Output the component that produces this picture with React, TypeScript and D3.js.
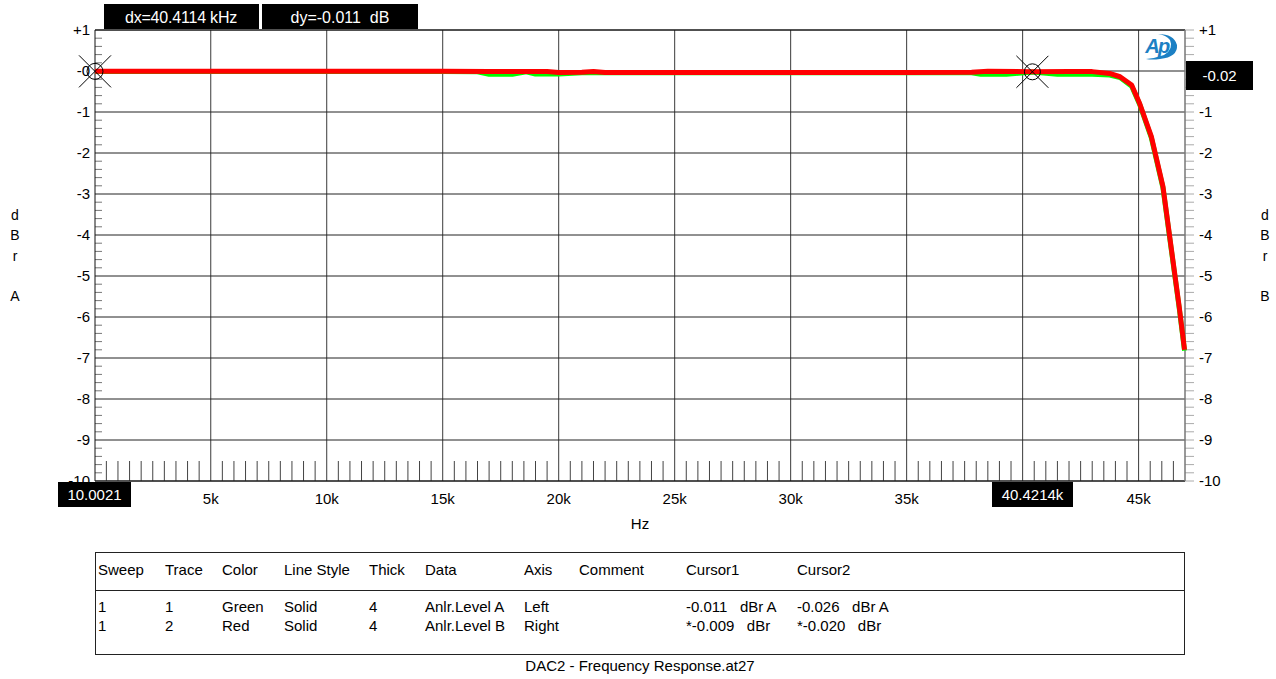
import React from "react";
import * as d3 from "d3";

// Frequency points (Hz) and levels (dB) for the two analyzer traces
const redFreq = [10, 5000, 10000, 15000, 17000, 19500, 20000, 21000, 21500, 22000, 25000, 30000, 35000, 37800, 38500, 40421, 42000, 43000, 43750, 44200, 44700, 45050, 45550, 46050, 46400, 46750, 46980];
const redLevel = [-0.009, -0.008, -0.008, -0.009, -0.01, -0.012, -0.035, -0.033, -0.012, -0.035, -0.036, -0.036, -0.035, -0.03, -0.005, -0.02, -0.01, -0.015, -0.06, -0.14, -0.34, -0.8, -1.6, -2.82, -4.29, -5.75, -6.8];

const greenFreq = [10, 5000, 10000, 15000, 16500, 17000, 18000, 18600, 19000, 20000, 21000, 22000, 25000, 30000, 35000, 37800, 38200, 39300, 40421, 41500, 43000, 43750, 44200, 44700, 45050, 45550, 46050, 46400, 46750, 46980];
const greenLevel = [-0.011, -0.01, -0.01, -0.012, -0.02, -0.08, -0.08, -0.02, -0.075, -0.075, -0.045, -0.045, -0.045, -0.045, -0.045, -0.045, -0.08, -0.08, -0.026, -0.08, -0.08, -0.1, -0.16, -0.37, -0.82, -1.63, -2.85, -4.32, -5.78, -6.82];

const xTickValues = [5000, 10000, 15000, 20000, 25000, 30000, 35000, 40000, 45000];
const xTickLabels = ["5k", "10k", "15k", "20k", "25k", "30k", "35k", "40k", "45k"];
const yTickValues = [1, 0, -1, -2, -3, -4, -5, -6, -7, -8, -9, -10];
const yTickLabels = ["+1", "-0", "-1", "-2", "-3", "-4", "-5", "-6", "-7", "-8", "-9", "-10"];

const cursorFreq = [10.0021, 40421.4];
const cursorLevel = [-0.009, -0.02];

const tableHeader = ["Sweep", "Trace", "Color", "Line Style", "Thick", "Data", "Axis", "Comment", "Cursor1", "Cursor2"];
const tableRow1 = ["1", "1", "Green", "Solid", "4", "Anlr.Level A", "Left", "", "-0.011   dBr A", "-0.026   dBr A"];
const tableRow2 = ["1", "2", "Red", "Solid", "4", "Anlr.Level B", "Right", "", "*-0.009   dBr", "*-0.020   dBr"];
const tableColX = [98, 165, 222, 284, 369, 425, 524, 579, 686, 797];

const FONT = "'Liberation Sans', Arial, Helvetica, sans-serif";

export default function App() {
  const W = 1276, H = 679;
  const L = 95, R = 1185, T = 30, B = 481;
  const x = d3.scaleLinear().domain([10, 47000]).range([L, R]);
  const y = d3.scaleLinear().domain([1, -10]).range([T, B]);

  const line = d3.line<[number, number]>().x(d => x(d[0])).y(d => y(d[1]));
  const redPts = redFreq.map((f, i) => [f, redLevel[i]] as [number, number]);
  const greenPts = greenFreq.map((f, i) => [f, greenLevel[i]] as [number, number]);

  // minor ticks
  const xMinor = d3.range(500, 47000, 500).filter(v => v % 5000 !== 0);
  const yMinor = d3.range(0, 56).map(i => +(1 - i * 0.2).toFixed(2)).filter(v => Math.abs(v - Math.round(v)) > 0.01);

  const cursors = cursorFreq.map((f, i) => ({ cx: x(f), cy: y(cursorLevel[i]) }));

  // labels hidden under the cursor readout boxes are left out
  const xLabelShown = (v: number) => Math.abs(x(v) - cursors[1].cx) > 30;
  const rightLabelShown = (v: number) => v !== 0;

  return (
    <svg width={W} height={H} style={{ position: "absolute", left: 0, top: 0, background: "#fff" }} fontFamily={FONT}>
      <rect x={0} y={0} width={W} height={H} fill="#fff" />

      {/* grid */}
      {xTickValues.map(v => (
        <line key={"gx" + v} x1={x(v)} x2={x(v)} y1={T} y2={B} stroke="#3a3a3a" strokeWidth={1} />
      ))}
      {yTickValues.map(v => (
        <line key={"gy" + v} x1={L} x2={R} y1={y(v)} y2={y(v)} stroke="#222" strokeWidth={1} />
      ))}

      {/* x minor ticks along the bottom */}
      {xMinor.map(v => (
        <line key={"xm" + v} x1={x(v)} x2={x(v)} y1={B - 20} y2={B} stroke="#444" strokeWidth={1} />
      ))}
      {/* left minor ticks (inward) */}
      {yMinor.map(v => (
        <line key={"ylm" + v} x1={L} x2={L + 7} y1={y(v)} y2={y(v)} stroke="#777" strokeWidth={1} />
      ))}
      {/* right ticks (outward) */}
      {yMinor.concat(yTickValues).map(v => (
        <line key={"yrm" + v} x1={R} x2={R + 9} y1={y(v)} y2={y(v)} stroke="#aaa" strokeWidth={1} />
      ))}

      {/* frame */}
      <line x1={L} x2={R} y1={T} y2={T} stroke="#111" />
      <line x1={L} x2={R} y1={B} y2={B} stroke="#111" />
      <line x1={L} x2={L} y1={T} y2={B} stroke="#111" />
      <line x1={R} x2={R} y1={T} y2={B} stroke="#777" strokeWidth={1.5} />

      {/* traces */}
      <path d={line(greenPts) || ""} fill="none" stroke="#00ff00" strokeWidth={5} strokeLinejoin="round" />
      <path d={line(redPts) || ""} fill="none" stroke="#ff0000" strokeWidth={5} strokeLinejoin="round" />

      {/* cursors */}
      {cursors.map((c, i) => (
        <g key={"c" + i} stroke="#000" strokeWidth={1} fill="none">
          <circle cx={c.cx} cy={c.cy} r={8} />
          <line x1={c.cx - 16} y1={c.cy - 16} x2={c.cx + 16} y2={c.cy + 16} />
          <line x1={c.cx - 16} y1={c.cy + 16} x2={c.cx + 16} y2={c.cy - 16} />
        </g>
      ))}

      {/* y tick labels */}
      {yTickValues.map((v, i) => (
        <text key={"yl" + v} x={90} y={y(v)} dy="0.35em" textAnchor="end" fontSize={15} fill="#000">{yTickLabels[i]}</text>
      ))}
      {yTickValues.filter(rightLabelShown).map(v => (
        <text key={"yr" + v} x={1199} y={y(v)} dy="0.35em" textAnchor="start" fontSize={15} fill="#000">{yTickLabels[yTickValues.indexOf(v)]}</text>
      ))}

      {/* x tick labels */}
      {xTickValues.filter(xLabelShown).map(v => (
        <text key={"xl" + v} x={x(v)} y={499} dy="0.35em" textAnchor="middle" fontSize={15} fill="#000">{xTickLabels[xTickValues.indexOf(v)]}</text>
      ))}
      <text x={640} y={524} dy="0.35em" textAnchor="middle" fontSize={15} fill="#000">Hz</text>

      {/* axis titles */}
      {["d", "B", "r", "", "A"].map((ch, i) => (
        <text key={"lt" + i} x={15} y={215 + i * 20.3} dy="0.35em" textAnchor="middle" fontSize={14} fill="#000">{ch}</text>
      ))}
      {["d", "B", "r", "", "B"].map((ch, i) => (
        <text key={"rt" + i} x={1265} y={215 + i * 20.3} dy="0.35em" textAnchor="middle" fontSize={14} fill="#000">{ch}</text>
      ))}

      {/* cursor readouts */}
      <rect x={104} y={4} width={155} height={25} fill="#000" />
      <text x={181} y={17} dy="0.35em" textAnchor="middle" fontSize={16} fill="#fff" letterSpacing={-0.2}>dx=40.4114 kHz</text>
      <rect x={262} y={4} width={156} height={25} fill="#000" />
      <text x={340} y={17} dy="0.35em" textAnchor="middle" fontSize={16} fill="#fff" style={{ whiteSpace: "pre" }}>dy=-0.011  dB</text>

      <rect x={58} y={482} width={73} height={25} fill="#000" />
      <text x={94.5} y={495} dy="0.35em" textAnchor="middle" fontSize={15} fill="#fff">10.0021</text>
      <rect x={992} y={482} width={81} height={25} fill="#000" />
      <text x={1032.5} y={495} dy="0.35em" textAnchor="middle" fontSize={15} fill="#fff">40.4214k</text>

      <rect x={1186} y={61} width={67} height={29} fill="#000" />
      <text x={1219.5} y={76} dy="0.35em" textAnchor="middle" fontSize={15} fill="#fff">-0.02</text>

      {/* logo */}
      <g>
        <text x={1157} y={53} textAnchor="middle" fontSize={20} fontStyle="italic" fontWeight="bold" fill="#1c80c4" letterSpacing={-1.5}>Ap</text>
        <path d="M 1158 34 Q 1174 34 1177 45 Q 1178 57 1160 59 Q 1152 60 1146 59 Q 1156 58 1164 55 Q 1174 49 1170 40 Q 1166 35 1158 34 Z" fill="#1c80c4" />
      </g>

      {/* table */}
      <rect x={95.5} y={552.5} width={1089} height={102} fill="none" stroke="#222" strokeWidth={1} />
      <line x1={95.5} x2={1184.5} y1={590.5} y2={590.5} stroke="#222" />
      {tableHeader.map((t, i) => (
        <text key={"th" + i} x={tableColX[i]} y={570} dy="0.35em" fontSize={15} fill="#000">{t}</text>
      ))}
      {tableRow1.map((t, i) => (
        <text key={"r1" + i} x={tableColX[i]} y={607} dy="0.35em" fontSize={15} fill="#000" style={{ whiteSpace: "pre" }}>{t}</text>
      ))}
      {tableRow2.map((t, i) => (
        <text key={"r2" + i} x={tableColX[i]} y={626} dy="0.35em" fontSize={15} fill="#000" style={{ whiteSpace: "pre" }}>{t}</text>
      ))}
      <text x={640} y={666} dy="0.35em" textAnchor="middle" fontSize={15} fill="#000">DAC2 - Frequency Response.at27</text>
    </svg>
  );
}
